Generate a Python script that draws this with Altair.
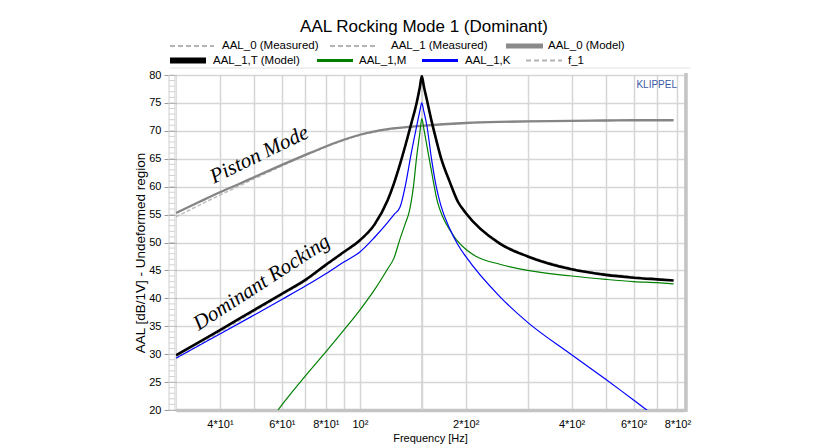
import altair as alt
import pandas as pd

# ---------------- data ----------------
freq_piston = [30, 35, 40, 45, 50, 60, 70, 80, 90, 100, 120, 150, 200, 250, 300, 400, 500, 600, 700, 780]
aal0_model = [55.3, 57.3, 59.0, 60.4, 61.7, 63.9, 65.7, 67.2, 68.4, 69.3, 70.3, 70.9, 71.4, 71.6, 71.7, 71.8, 71.85, 71.9, 71.9, 71.9]
aal0_meas = [54.6, 56.7, 58.5, 60.0, 61.4, 63.7, 65.6, 67.1, 68.3, 69.2, 70.2, 70.9, 71.4, 71.6, 71.7, 71.8, 71.85, 71.9, 71.9, 71.9]

freq_rock = [30, 35, 40, 50, 60, 70, 80, 90, 100, 110, 120, 125, 130, 135, 140, 145, 148, 150,
             152, 155, 160, 165, 170, 180, 190, 200, 250, 300, 400, 500, 600, 700, 780]
aal1_t = [29.8, 32.2, 34.3, 37.9, 40.8, 43.3, 46.0, 48.3, 50.4, 53.2, 57.6, 60.6, 64.0, 67.6, 71.3, 75.0, 77.7, 79.8,
          78.0, 75.6, 71.7, 68.3, 65.2, 60.9, 57.3, 55.3, 49.8, 47.5, 45.2, 44.2, 43.7, 43.4, 43.2]
aal1_meas = [29.2, 31.7, 33.9, 37.6, 40.6, 43.1, 45.8, 48.1, 50.2, 53.0, 57.4, 60.4, 63.8, 67.4, 71.1, 74.8, 77.4, 79.4,
             77.8, 75.4, 71.5, 68.2, 65.1, 60.9, 57.4, 55.4, 50.0, 47.7, 45.4, 44.4, 43.9, 43.5, 43.3]
aal1_k = [29.3, 31.6, 33.6, 37.0, 39.8, 42.2, 44.4, 46.5, 48.3, 50.9, 53.6, 55.0, 56.3, 60.5, 66.0, 70.8, 73.5, 75.0,
          73.5, 71.0, 64.8, 59.9, 56.6, 52.5, 49.6, 47.5, 40.3, 35.7, 29.9, 25.5, 21.8, 18.7, 17.0]

freq_m = [58.5, 60, 70, 80, 90, 100, 110, 120, 125, 130, 135, 138, 142, 145, 148, 150, 152, 155, 160,
          166, 172, 180, 188, 200, 213, 250, 300, 400, 500, 600, 700, 780]
aal1_m = [20.0, 20.9, 26.1, 30.4, 34.3, 37.9, 41.5, 45.3, 47.2, 50.6, 53.6, 55.4, 60.0, 65.3, 69.5, 72.2, 70.4, 67.4, 62.6,
          57.4, 54.6, 52.3, 50.5, 48.8, 47.6, 46.1, 45.0, 44.0, 43.4, 43.0, 42.8, 42.6]

f_1 = [150]

x_grid = [40, 50, 60, 70, 80, 90, 100, 150, 200, 300, 400, 500, 600, 700, 800]
x_label_vals = [40, 60, 80, 100, 200, 400, 600, 800]
x_label_txt = ["4*10¹", "6*10¹", "8*10¹", "10²", "2*10²", "4*10²", "6*10²", "8*10²"]
y_ticks = [20, 25, 30, 35, 40, 45, 50, 55, 60, 65, 70, 75, 80]
ladder = list(range(20, 81))

annot_text = ["Piston Mode", "Dominant Rocking"]
annot_f = [51.8, 52.6]
annot_v = [65.7, 42.8]
annot_angle = [334, 327]

# ---------------- styling / layout ----------------
W, H = 508, 335
SANS = "Liberation Sans"
GRID = "#d6d6d6"

label_expr = " : ".join(
    f"datum.value == {v} ? '{t}'" for v, t in zip(x_label_vals, x_label_txt)
) + " : ''"

x_scale = alt.Scale(type="log", domain=[30, 835], nice=False)
y_scale = alt.Scale(domain=[20, 80], nice=False)

x_axis = alt.Axis(values=x_grid, labelExpr=label_expr, grid=True, gridColor=GRID, gridWidth=1.5,
                  tickSize=0, domainColor="#c4c4c4", domainWidth=3.5, labelFont=SANS, labelFontSize=11,
                  labelColor="black", labelPadding=8, labelFlush=False, labelOverlap=False,
                  title="Frequency [Hz]", titleFont=SANS, titleFontSize=11, titleFontWeight="normal",
                  titleColor="black", titlePadding=3)
y_axis = alt.Axis(values=y_ticks, grid=True, gridColor=GRID, gridWidth=1.5, tickSize=12, tickColor="#9a9a9a",
                  domain=False, labelFont=SANS, labelFontSize=11, labelColor="black", labelPadding=3,
                  title="")


def X(field="f"):
    return alt.X(f"{field}:Q", scale=x_scale, axis=x_axis)


def Y(field="v"):
    return alt.Y(f"{field}:Q", scale=y_scale, axis=y_axis)


def line(freqs, vals, **style):
    df = pd.DataFrame({"f": freqs, "v": vals})
    return alt.Chart(df).mark_line(clip=True, interpolate="monotone", **style).encode(x=X(), y=Y())


one = pd.DataFrame({"k": [0]})

layers = []

# ladder on the left edge of the plot
layers.append(alt.Chart(pd.DataFrame({"v": ladder})).mark_rule(color="#d2d2d2", strokeWidth=1)
              .encode(y=Y(), x=alt.value(-7), x2=alt.value(-1)))
for xx in (-7, -1):
    layers.append(alt.Chart(one).mark_rule(color="#cfcfcf", strokeWidth=1)
                  .encode(x=alt.value(xx), y=alt.value(0), y2=alt.value(H)))
# right frame
layers.append(alt.Chart(one).mark_rule(color="#c4c4c4", strokeWidth=3.5)
              .encode(x=alt.value(W + 2), y=alt.value(-2), y2=alt.value(H + 2)))
# separator under legend
layers.append(alt.Chart(one).mark_rule(color="#e2e2e2", strokeWidth=1)
              .encode(x=alt.value(-6), x2=alt.value(W + 6), y=alt.value(-7)))

# f_1 marker (coincides with the 150 Hz grid line)
layers.append(alt.Chart(pd.DataFrame({"f": f_1})).mark_rule(color=GRID, strokeWidth=1.5)
              .encode(x=X(), y=alt.value(0), y2=alt.value(H)))

# curves
layers.append(line(freq_piston, aal0_meas, color="#bdbdbd", strokeWidth=1.5, strokeDash=[4, 2]))
layers.append(line(freq_rock, aal1_meas, color="#bdbdbd", strokeWidth=1.5, strokeDash=[4, 2]))
layers.append(line(freq_piston, aal0_model, color="#858585", strokeWidth=2.3))
layers.append(line(freq_m, aal1_m, color="#008000", strokeWidth=1.2))
layers.append(line(freq_rock, aal1_k, color="#0000ff", strokeWidth=1.2))
layers.append(line(freq_rock, aal1_t, color="black", strokeWidth=2.6))

# annotations
adf = pd.DataFrame({"t": annot_text, "f": annot_f, "v": annot_v})
for i in range(len(annot_text)):
    layers.append(alt.Chart(adf.iloc[[i]]).mark_text(font="Liberation Serif", fontStyle="italic", fontSize=21,
                                                     color="black", angle=annot_angle[i], align="center",
                                                     baseline="middle")
                  .encode(x=X(), y=Y(), text="t:N"))

# y axis title
layers.append(alt.Chart(one).mark_text(text="AAL [dB/1V] - Undeformed region", font=SANS, fontSize=13.5,
                                       color="black", angle=270, align="center", baseline="middle")
              .encode(x=alt.value(-35), y=alt.value(178)))

# KLIPPEL logo text
layers.append(alt.Chart(one).mark_text(text="KLIPPEL", font="Liberation Sans Narrow, Liberation Sans", fontSize=10,
                                       color="#3b59a4", align="right", baseline="middle")
              .encode(x=alt.value(501), y=alt.value(10)))

# title
layers.append(alt.Chart(one).mark_text(text="AAL Rocking Mode 1 (Dominant)", font=SANS, fontSize=17,
                                       color="black", align="center", baseline="middle")
              .encode(x=alt.value(248), y=alt.value(-48)))

# custom legend
row1, row2 = -29, -14.5
legend_items = [
    # x0, x1, y, color, width, dash, label_x, label
    (-6, 38, row1, "#b4b4b4", 2, [5, 3], 46, "AAL_0 (Measured)"),
    (154, 199, row1, "#b4b4b4", 2, [5, 3], 215, "AAL_1 (Measured)"),
    (330, 367, row1, "#8a8a8a", 5, None, 372, "AAL_0 (Model)"),
    (-6, 30, row2, "black", 6, None, 37, "AAL_1,T (Model)"),
    (141, 177, row2, "#008000", 3, None, 183, "AAL_1,M"),
    (246, 282, row2, "#0000ff", 3, None, 289, "AAL_1,K"),
    (350, 386, row2, "#b4b4b4", 2, [5, 3], 392, "f_1"),
]
for x0, x1, yy, col, sw, dash, lx, lab in legend_items:
    kw = dict(color=col, strokeWidth=sw)
    if dash:
        kw["strokeDash"] = dash
    layers.append(alt.Chart(one).mark_rule(**kw)
                  .encode(x=alt.value(x0), x2=alt.value(x1), y=alt.value(yy)))
    layers.append(alt.Chart(one).mark_text(text=lab, font=SANS, fontSize=11.5, color="black",
                                           align="left", baseline="middle")
                  .encode(x=alt.value(lx), y=alt.value(yy)))

chart = alt.layer(*layers).properties(
    width=W, height=H,
    autosize=alt.AutoSizeParams(type="none"),
    padding={"left": 168, "top": 67, "right": 129, "bottom": 38},
).configure_view(stroke=None).configure(background="white")

chart.save("out.html", embed_options={"renderer": "svg", "actions": False})
